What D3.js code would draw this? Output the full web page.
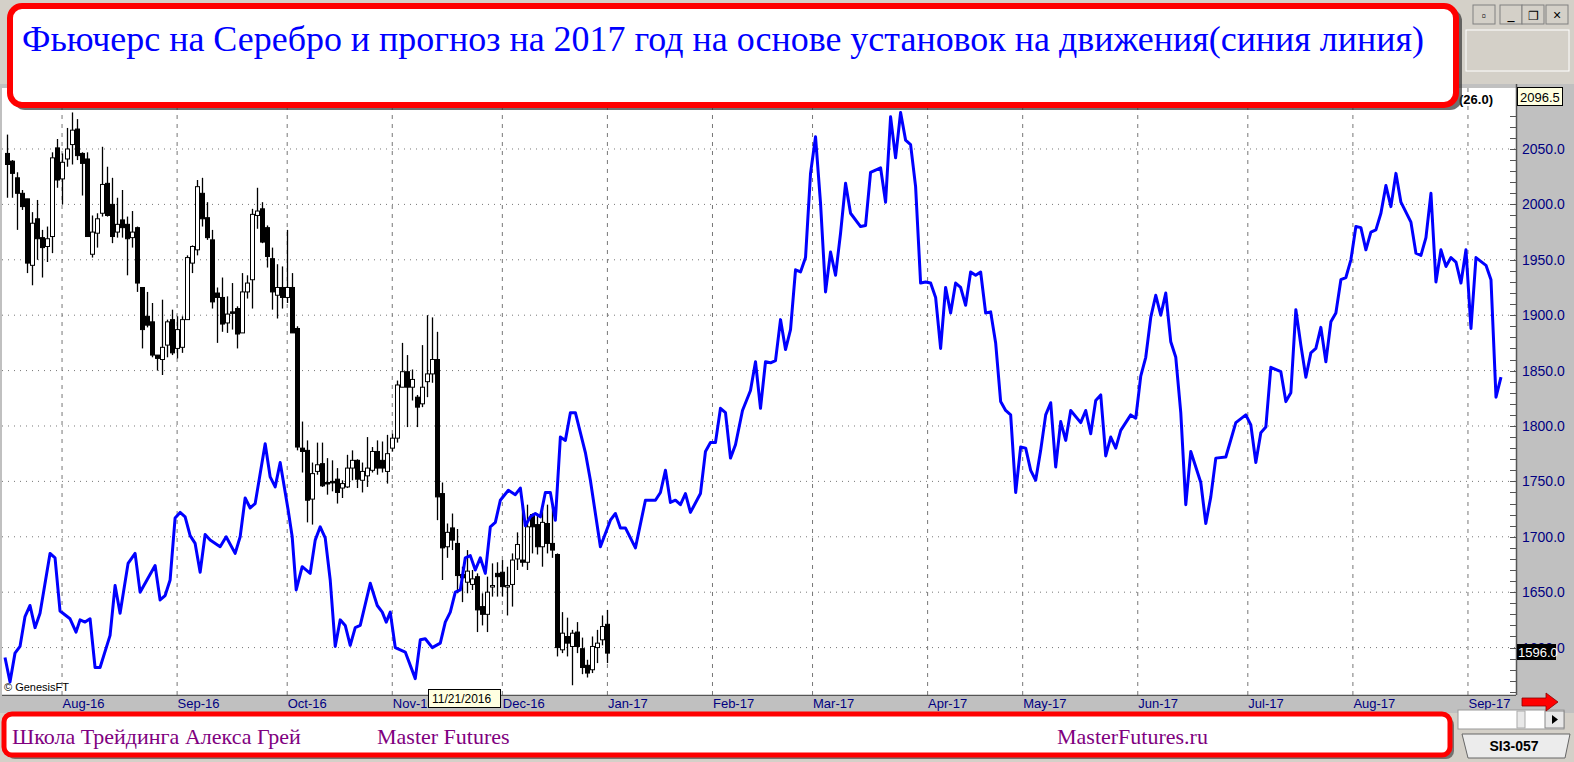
<!DOCTYPE html>
<html><head><meta charset="utf-8">
<script src="https://cdn.jsdelivr.net/npm/d3@7"></script>
<style>html,body{margin:0;padding:0;background:#c0c0c0;overflow:hidden}</style>
</head><body><svg id="c" width="1574" height="762"></svg>
<script>
const titleText = "Фьючерс на Серебро и прогноз на 2017 год на основе установок на движения(синия линия)";
const footerTexts = ["Школа Трейдинга Алекса Грей", "Master Futures", "MasterFutures.ru"];
const monthLabels = ["Aug-16","Sep-16","Oct-16","Nov-16","Dec-16","Jan-17","Feb-17","Mar-17","Apr-17","May-17","Jun-17","Jul-17","Aug-17","Sep-17"];
const monthIdx = [0,23,45,66,88,109,130,150,173,192,215,237,258,281];
const yTicks = [1600,1650,1700,1750,1800,1850,1900,1950,2000,2050];
const candleStart = -11;
const cOpen  = [2046,2039,2024,2010,2005,1945,1987,1970,1962,1971,2051,2023,2041,2054,2068,2046,2041,1955,1974,1992,2019,2000,1975,1986,1982,1970,1979,1925,1899,1894,1864,1860,1873,1896,1870,1871,1896,1947,1959,2010,1988,1968,1920,1916,1893,1903,1906,1884,1921,1932,1990,1996,1979,1951,1918,1925,1916,1925,1888,1780,1778,1734,1759,1766,1749,1750,1752,1744,1745,1762,1769,1751,1755,1760,1777,1769,1759,1780,1789,1835,1849,1835,1826,1820,1840,1847,1860,1739,1691,1708,1694,1666,1659,1657,1664,1637,1630,1655,1667,1668,1655,1657,1680,1679,1677,1720,1711,1691,1712,1694,1684,1598,1610,1601,1614,1599,1584,1580,1600,1607,1621];
const cHigh  = [2063,2040,2029,2013,2005,1993,2004,1977,1980,2047,2059,2046,2069,2083,2077,2047,2047,1990,1992,2052,2034,2024,2006,2013,1989,1994,1980,1925,1921,1911,1864,1914,1896,1905,1899,1899,1954,1963,2022,2024,2002,1977,1925,1934,1917,1929,1908,1938,1936,1996,2015,2002,1981,1961,1946,1944,1977,1938,1890,1804,1787,1767,1785,1785,1771,1769,1762,1751,1774,1778,1770,1767,1790,1781,1787,1786,1792,1793,1841,1875,1864,1851,1828,1873,1900,1898,1885,1749,1712,1721,1707,1673,1688,1670,1667,1649,1664,1676,1677,1679,1673,1685,1704,1729,1729,1721,1721,1726,1729,1728,1685,1632,1627,1616,1623,1609,1589,1610,1616,1629,1634];
const cLow   = [2006,2006,1977,1995,1938,1927,1950,1934,1948,1956,2015,2000,2034,2036,2040,2008,1971,1952,1961,1989,1989,1965,1970,1970,1936,1961,1921,1870,1889,1862,1850,1846,1862,1864,1861,1866,1896,1938,1954,1980,1968,1906,1875,1885,1884,1887,1870,1884,1915,1906,1978,1965,1943,1905,1897,1906,1911,1884,1778,1758,1713,1711,1756,1745,1738,1741,1730,1735,1744,1751,1744,1740,1745,1758,1756,1758,1748,1777,1785,1835,1799,1823,1799,1817,1826,1839,1715,1661,1681,1688,1649,1641,1649,1652,1614,1620,1614,1646,1646,1646,1629,1637,1670,1673,1670,1685,1684,1673,1685,1681,1592,1595,1592,1566,1595,1576,1573,1577,1586,1602,1586];
const cClose = [2036,2028,2010,1998,1947,1983,1969,1961,1969,2042,2022,2038,2050,2067,2044,2037,1971,1975,1987,2018,1990,1971,1982,1979,1969,1975,1929,1887,1891,1864,1861,1871,1894,1866,1887,1896,1952,1962,2016,1987,1970,1912,1916,1892,1901,1902,1883,1921,1929,1991,1994,1966,1953,1921,1925,1916,1925,1884,1781,1777,1733,1757,1765,1746,1748,1749,1740,1748,1762,1769,1752,1759,1762,1777,1762,1762,1775,1789,1837,1849,1835,1842,1817,1835,1847,1860,1736,1690,1704,1697,1665,1663,1669,1662,1634,1630,1650,1656,1664,1655,1656,1679,1693,1677,1709,1709,1691,1713,1694,1688,1600,1613,1604,1613,1601,1582,1577,1601,1604,1619,1595];
const blueIdx = [-11.4,-10.4,-9.4,-8.4,-7.4,-6.4,-5.4,-4.4,-2.4,-1.4,-0.4,1.6,2.8,3.6,4.6,5.6,6.6,7.6,9.6,10.6,11.6,13.2,14.6,15.6,18.6,19.6,20.6,21.6,22.6,23.6,24.6,25.6,26.6,27.6,28.6,29.6,31.6,32.8,34.6,35.6,36.6,37.6,38.6,40.6,41.6,42.6,43.6,45.2,46,46.8,48,49.6,50.6,51.6,52.6,53.6,54.6,55.6,56.6,57.6,58.6,59.6,61.6,63,64,64.8,65.6,66.6,68.6,70.6,71.6,72.6,74,75.6,76.6,77.6,78.6,79.6,80.6,81.6,82.6,83.6,84.6,85.6,86.6,87.6,89.2,90.6,91.6,92.6,93.6,94.6,95.6,96.6,97.6,98.6,99.6,100.6,101.6,102.6,104.6,105.6,107.6,109.6,110.6,111.6,112.6,114.6,116.6,118.6,119.6,120.6,121.6,122.6,123.6,124.6,125.6,127.6,128.6,129.6,130.6,131.6,132.6,133.6,134.6,136,137.6,138.6,139.6,140.6,141.6,142.6,143.6,144.6,145.6,146.6,147.6,148.6,149.6,150.6,151.6,152.6,153.6,154.6,155.6,156.6,157.6,159.6,160.6,161.6,163.6,164.6,165.6,166.6,167.6,168.6,169.6,170.6,171.6,172.6,173.6,174.6,175.6,176.6,177.6,178.6,179.6,180.6,181.6,182.6,183.6,184.6,185.6,186.6,187.6,188.6,189.6,190.6,191.6,192.6,193.6,194.6,195.6,196.6,197.6,198.6,199.6,200.6,201.6,203.6,204.6,205.6,206.6,207.6,208.6,209.6,210.6,211.6,213.6,214.6,215.6,216.6,217.6,218.6,219.6,220.6,221.6,222.6,223.6,224.6,225.6,227.6,228.6,229.6,230.6,232.6,234.6,236.6,237.6,238.6,239.6,240.6,241.6,243.6,244.6,245.6,246.6,247.6,248.6,249.6,250.6,251.6,252.6,253.6,254.6,255.6,256.6,257.6,258.6,259.6,260.6,261.6,262.6,263.6,264.6,265.6,266.6,267.6,269.6,270.6,271.6,272.6,273.6,274.6,275.6,276.6,277.6,278.6,279.6,280.6,281.6,282.6,284.6,285.6,286.6,287.6];
const blueVal = [1591,1569,1595,1601,1628,1638,1618,1631,1685,1681,1633,1626,1614,1625,1623,1626,1582,1582,1611,1656,1631,1676,1685,1650,1674,1643,1647,1661,1717,1722,1718,1701,1694,1668,1702,1697,1691,1700,1685,1700,1735,1726,1730,1784,1754,1745,1767,1724,1700,1652,1673,1667,1697,1709,1699,1661,1601,1625,1620,1602,1618,1620,1658,1638,1632,1623,1632,1600,1596,1572,1607,1608,1600,1604,1623,1632,1650,1652,1681,1683,1670,1681,1667,1709,1713,1733,1742,1738,1744,1710,1718,1721,1718,1740,1740,1715,1790,1787,1812,1812,1776,1751,1691,1715,1721,1708,1708,1690,1733,1733,1740,1760,1731,1733,1729,1739,1722,1739,1777,1785,1785,1816,1812,1771,1783,1814,1832,1858,1816,1858,1857,1859,1896,1869,1887,1941,1939,1952,2028,2061,2001,1921,1957,1936,1974,2019,1992,1980,1981,2029,2033,2002,2079,2042,2083,2058,2054,2016,1929,1930,1929,1916,1870,1925,1902,1929,1925,1909,1939,1936,1939,1902,1903,1875,1822,1814,1810,1740,1781,1780,1760,1751,1778,1810,1821,1763,1804,1787,1814,1803,1814,1793,1823,1828,1773,1790,1780,1796,1810,1807,1845,1862,1898,1918,1900,1920,1876,1862,1812,1729,1777,1749,1712,1736,1771,1772,1803,1810,1801,1767,1794,1799,1853,1849,1822,1830,1905,1873,1844,1866,1870,1889,1858,1894,1902,1932,1934,1950,1980,1979,1959,1975,1977,1992,2017,1998,2028,2002,1984,1956,1954,1970,2010,1930,1959,1944,1952,1948,1929,1959,1888,1952,1945,1932,1826,1844];
const lastPrice = 1596.0, topPrice = 2096.5, tipDate = "11/21/2016";

const svg = d3.select("#c");
const L=2, R=1516, T=108, B=695;
const x = d3.scaleLinear().domain([-12, 290.6]).range([L, R]);
const y = d3.scaleLinear().domain([1557.2, 2087]).range([B, T]);

svg.append("rect").attr("x",L).attr("y",T-20).attr("width",R-L).attr("height",B-T+20).attr("fill","#fff");
svg.append("g").selectAll("line").data(yTicks).join("line")
  .attr("x1",L).attr("x2",R).attr("y1",d=>y(d)).attr("y2",d=>y(d))
  .attr("stroke","#777").attr("stroke-dasharray","1,5");
svg.append("g").selectAll("line").data(monthIdx).join("line")
  .attr("x1",d=>x(d)).attr("x2",d=>x(d)).attr("y1",T-20).attr("y2",B)
  .attr("stroke","#777").attr("stroke-dasharray","4,5");

const cand = d3.range(cOpen.length).map(k=>({i:candleStart+k,o:cOpen[k],h:cHigh[k],l:cLow[k],c:cClose[k]}));
const cg = svg.append("g");
cg.selectAll("line").data(cand).join("line")
  .attr("x1",d=>Math.round(x(d.i))+0.5).attr("x2",d=>Math.round(x(d.i))+0.5)
  .attr("y1",d=>y(d.h)).attr("y2",d=>y(d.l)).attr("stroke","#000").attr("stroke-width",1.3);
cg.selectAll("rect").data(cand).join("rect")
  .attr("x",d=>Math.round(x(d.i))-1.5).attr("width",4)
  .attr("y",d=>y(Math.max(d.o,d.c))).attr("height",d=>Math.max(1.5,Math.abs(y(d.o)-y(d.c))))
  .attr("fill",d=>d.c>=d.o?"#fff":"#000").attr("stroke","#000").attr("stroke-width",1);

const bd = blueIdx.map((v,k)=>[v,blueVal[k]]);
svg.append("path").datum(bd).attr("fill","none").attr("stroke","#0000ff").attr("stroke-width",3)
  .attr("stroke-linejoin","round").attr("d",d3.line().x(d=>x(d[0])).y(d=>y(d[1])));

svg.append("rect").attr("x",R).attr("y",84).attr("width",1574-R).attr("height",630).attr("fill","#c0c0c0");
svg.append("line").attr("x1",R+0.5).attr("x2",R+0.5).attr("y1",84).attr("y2",B).attr("stroke","#555").attr("stroke-width",1.5);
svg.append("line").attr("x1",L).attr("x2",R).attr("y1",B+0.5).attr("y2",B+0.5).attr("stroke","#555").attr("stroke-width",1.5);
const minor = d3.range(1560, 2090, 10);
svg.append("g").selectAll("line").data(minor).join("line")
  .attr("x1",R-6).attr("x2",R).attr("y1",d=>Math.round(y(d))+0.5).attr("y2",d=>Math.round(y(d))+0.5).attr("stroke","#555");
const ax = d3.axisRight(y).tickValues(yTicks).tickSize(0).tickPadding(6).tickFormat(d3.format(".1f"));
const axg = svg.append("g").attr("transform",`translate(${R},0)`).call(ax);
axg.select(".domain").remove();
axg.selectAll("text").attr("fill","#000080").attr("font-family","Liberation Sans, Arial").attr("font-size",14);

svg.append("rect").attr("x",0).attr("y",B+1).attr("width",R).attr("height",18).attr("fill","#c0c0c0");
const xa = d3.axisBottom(x).tickValues(monthIdx).tickSize(0).tickPadding(4).tickFormat((d,k)=>monthLabels[k]);
const xg = svg.append("g").attr("transform",`translate(0,${B})`).call(xa);
xg.select(".domain").remove();
xg.selectAll("text").attr("text-anchor","start").attr("fill","#000080").attr("font-family","Liberation Sans, Arial").attr("font-size",13);

svg.append("text").attr("x",4).attr("y",691).attr("font-family","Liberation Sans, Arial").attr("font-size",11).text("© GenesisFT");

svg.append("rect").attr("x",428.5).attr("y",689.5).attr("width",72).attr("height",18).attr("fill","#ffffe1").attr("stroke","#000");
svg.append("text").attr("x",432).attr("y",703).attr("font-family","Liberation Sans, Arial").attr("font-size",12).text(tipDate);

svg.append("rect").attr("x",1517).attr("y",y(lastPrice)-8).attr("width",39).attr("height",16).attr("fill","#000");
svg.append("text").attr("x",1518).attr("y",y(lastPrice)+5).attr("fill","#fff").attr("font-family","Liberation Sans, Arial").attr("font-size",13).text(lastPrice.toFixed(1));
svg.append("rect").attr("x",1517.5).attr("y",87.5).attr("width",45).attr("height",18).attr("fill","#ffffe1").attr("stroke","#000");
svg.append("text").attr("x",1520).attr("y",102).attr("font-family","Liberation Sans, Arial").attr("font-size",13).text(topPrice.toFixed(1));
svg.append("text").attr("x",1459).attr("y",104).attr("font-family","Liberation Sans, Arial").attr("font-size",13).attr("font-weight","bold").text("(26.0)");

svg.append("rect").attr("x",0).attr("y",0).attr("width",1574).attr("height",84).attr("fill","#d4d0c8");
svg.append("rect").attr("x",1466).attr("y",30).attr("width",103).attr("height",41).attr("fill","#d4d0c8").attr("stroke","#fff");
[1473,1500,1522,1546].forEach(bx=>{
  svg.append("rect").attr("x",bx).attr("y",5).attr("width",22).attr("height",19).attr("fill","#d4d0c8").attr("stroke","#808080");
});
svg.append("text").attr("x",1484).attr("y",20).attr("text-anchor","middle").attr("font-size",12).text("▫");
svg.append("text").attr("x",1511).attr("y",20).attr("text-anchor","middle").attr("font-size",14).attr("font-weight","bold").text("_");
svg.append("text").attr("x",1533).attr("y",20).attr("text-anchor","middle").attr("font-size",12).text("❐");
svg.append("text").attr("x",1557).attr("y",20).attr("text-anchor","middle").attr("font-size",14).attr("font-family","Liberation Sans").text("×");

svg.append("rect").attr("x",13).attr("y",9).attr("width",1449).attr("height",101).attr("rx",12).attr("fill","#333").attr("opacity",0.7);
svg.append("rect").attr("x",10).attr("y",6).attr("width",1446).attr("height",99).attr("rx",12).attr("fill","#fff").attr("stroke","#ff0000").attr("stroke-width",6);
svg.append("text").attr("x",22).attr("y",51).attr("fill","#0000ff").attr("font-family","Liberation Serif, Times New Roman").attr("font-size",36).attr("textLength",1402).attr("lengthAdjust","spacingAndGlyphs").text(titleText);

svg.append("rect").attr("x",0).attr("y",713).attr("width",1574).attr("height",49).attr("fill","#d4d0c8");
svg.append("rect").attr("x",1458).attr("y",710).attr("width",106).attr("height",19).attr("fill","#fff").attr("stroke","#999");
svg.append("rect").attr("x",1517).attr("y",711).attr("width",8).attr("height",17).attr("fill","#e8e8e8").attr("stroke","#aaa");
svg.append("rect").attr("x",1545).attr("y",711).attr("width",19).attr("height",17).attr("fill","#e8e8e8").attr("stroke","#888");
svg.append("path").attr("d","M1552,715 L1558,719.5 L1552,724 Z").attr("fill","#000");
svg.append("path").attr("d","M1522,698 L1546,698 L1546,693 L1558,702 L1546,711 L1546,706 L1522,706 Z").attr("fill","#ff0000").attr("stroke","#800").attr("stroke-width",0.8);
svg.append("path").attr("d","M1462,734 L1570,734 L1565,758 L1468,758 Z").attr("fill","#ececec").attr("stroke","#666");
svg.append("text").attr("x",1514).attr("y",751).attr("text-anchor","middle").attr("font-family","Liberation Sans, Arial").attr("font-weight","bold").attr("font-size",14).text("SI3-057");
svg.append("rect").attr("x",7).attr("y",717).attr("width",1447).attr("height",42).attr("rx",8).attr("fill","#333").attr("opacity",0.6);
svg.append("rect").attr("x",4).attr("y",714).attr("width",1446).attr("height",41).attr("rx",8).attr("fill","#fff").attr("stroke","#ff0000").attr("stroke-width",5);
const fx=[12,377,1057];
footerTexts.forEach((t,k)=>svg.append("text").attr("x",fx[k]).attr("y",744).attr("fill","#800080").attr("font-family","Liberation Serif, Times New Roman").attr("font-size",22).text(t));
</script></body></html>
